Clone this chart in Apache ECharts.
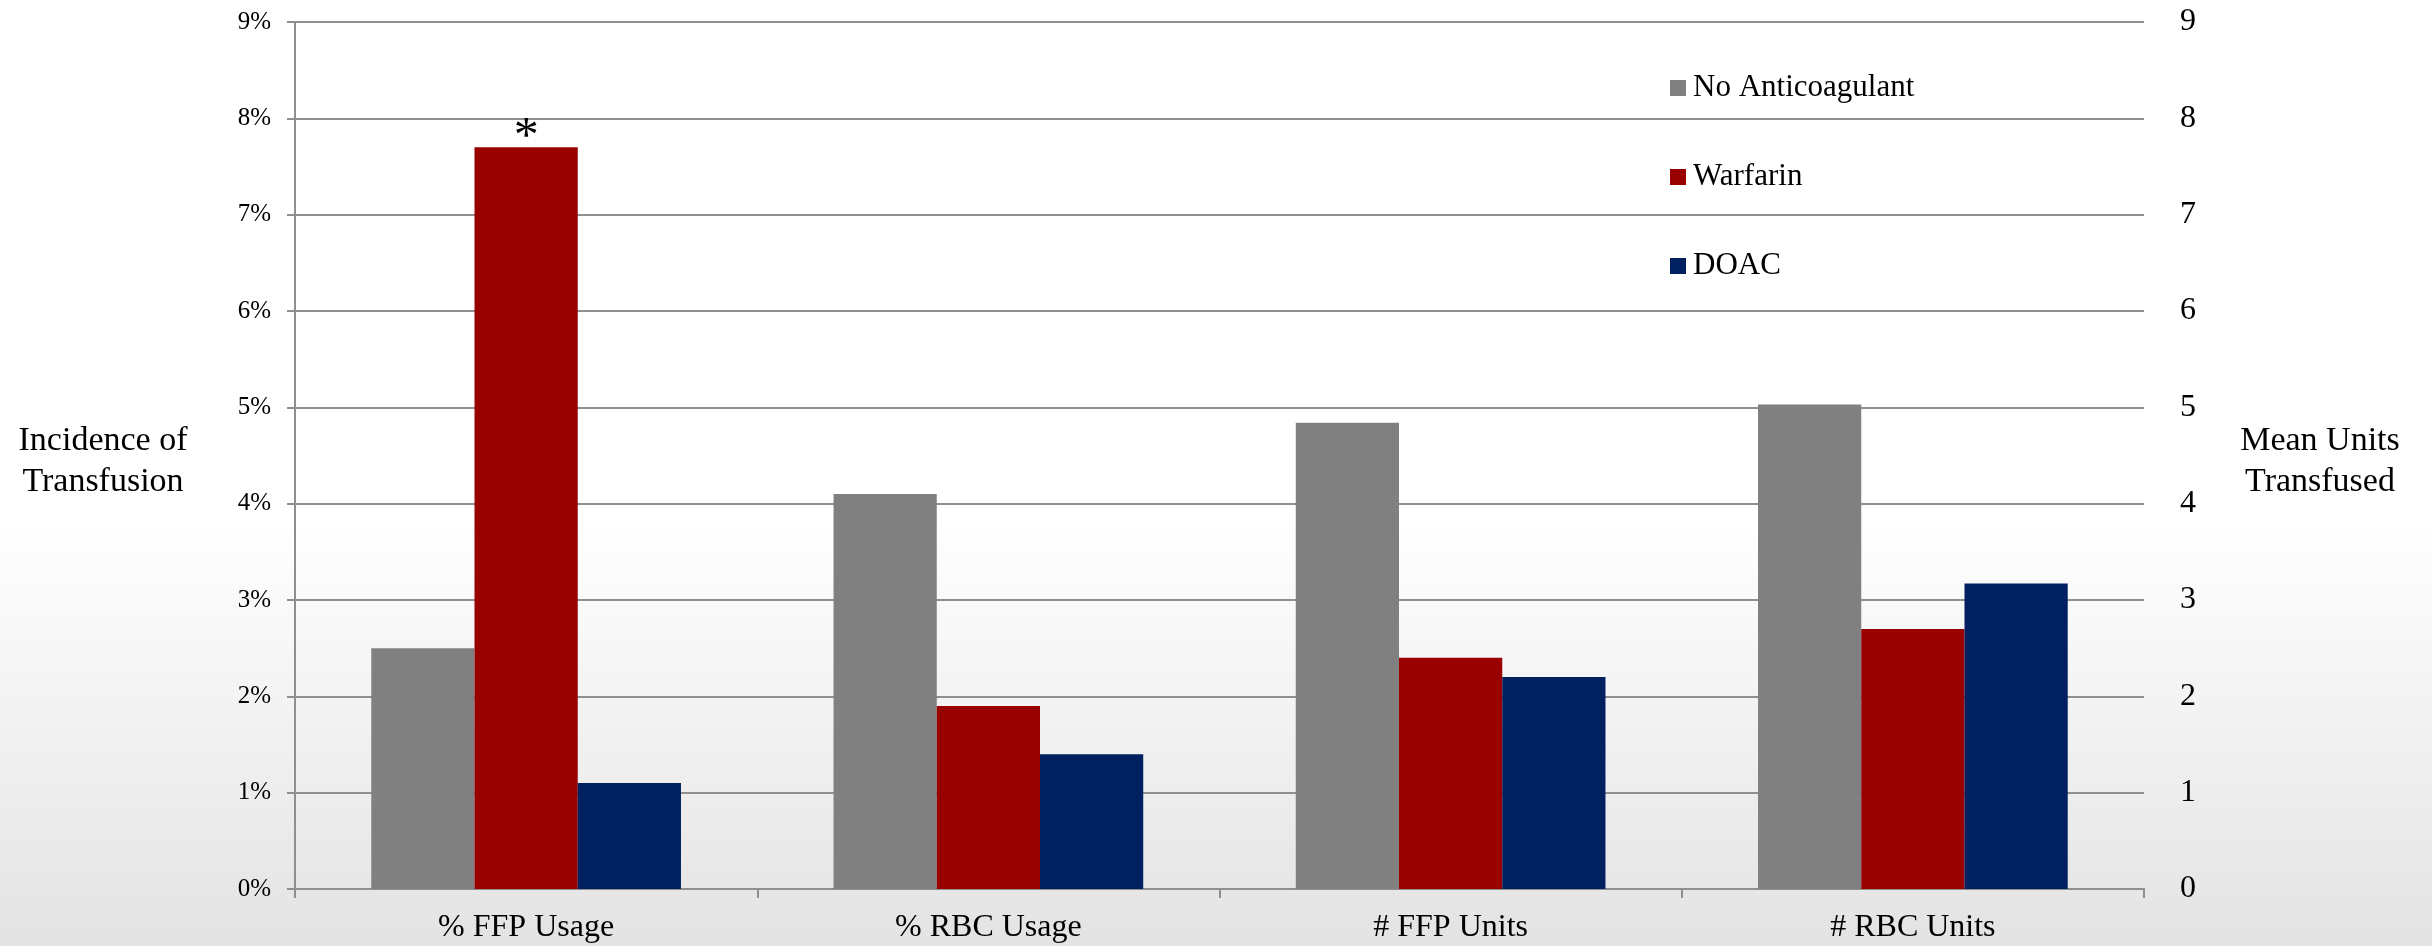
<!DOCTYPE html>
<html>
<head>
<meta charset="utf-8">
<script src="https://cdn.jsdelivr.net/npm/echarts@6/dist/echarts.min.js"></script>
<style>
  html, body { margin: 0; padding: 0; background: #fff; }
  #chart { width: 2432px; height: 946px; }
</style>
</head>
<body>
<div id="chart"></div>
<script>
// Categories along the bottom axis
const categories = ['% FFP Usage', '% RBC Usage', '# FFP Units', '# RBC Units'];
const groups = ['No Anticoagulant', 'Warfarin', 'DOAC'];

// Incidence of transfusion (%), for the two usage categories (left axis)
const incidenceNoAnticoagulant = [2.5, 4.1];
const incidenceWarfarin = [7.7, 1.9];
const incidenceDoac = [1.1, 1.4];

// Mean units transfused, for the two unit categories (right axis)
const unitsNoAnticoagulant = [4.84, 5.03];
const unitsWarfarin = [2.4, 2.7];
const unitsDoac = [2.2, 3.17];

// Significance markers shown above bars, per category
const markersNoAnticoagulant = ['', '', '', ''];
const markersWarfarin = ['*', '', '', ''];
const markersDoac = ['', '', '', ''];

// Axis titles
const leftTitle = 'Incidence of\nTransfusion';
const rightTitle = 'Mean Units\nTransfused';

// Axis ranges
const axisMin = 0;
const axisMax = 9;
const axisStep = 1;

const FONT = '"Liberation Serif", "Times New Roman", serif';
const GRID_GRAY = '#8f8f8f';
const colors = ['#808080', '#990000', '#002060'];

const incidence = [incidenceNoAnticoagulant, incidenceWarfarin, incidenceDoac];
const units = [unitsNoAnticoagulant, unitsWarfarin, unitsDoac];
const markers = [markersNoAnticoagulant, markersWarfarin, markersDoac];

// Place a short value list into its slots of the category axis
function toSlots(values, start, marks) {
  return categories.map(function (cat, i) {
    const k = i - start;
    const v = (k >= 0 && k < values.length) ? values[k] : null;
    if (v !== null && marks[i]) {
      return {
        value: v,
        label: {
          show: true,
          formatter: marks[i],
          position: 'top',
          distance: -16,
          fontFamily: FONT,
          fontSize: 50,
          color: '#000'
        }
      };
    }
    return v;
  });
}

const series = [];
groups.forEach(function (name, g) {
  // incidence bars on the left axis
  series.push({
    name: name,
    type: 'bar',
    stack: 'g' + g,
    yAxisIndex: 0,
    barGap: '0%',
    barCategoryGap: '33%',
    itemStyle: { color: colors[g] },
    data: toSlots(incidence[g], 0, markers[g])
  });
  // unit bars on the right axis, sharing the same slot
  series.push({
    name: name,
    type: 'bar',
    stack: 'g' + g,
    yAxisIndex: 1,
    barGap: '0%',
    barCategoryGap: '33%',
    itemStyle: { color: colors[g] },
    data: toSlots(units[g], 2, markers[g])
  });
});

const titleStyle = { font: '34px ' + FONT, fill: '#000', align: 'center', verticalAlign: 'middle', lineHeight: 41 };

const chart = echarts.init(document.getElementById('chart'), null, { renderer: 'canvas' });
chart.setOption({
  animation: false,
  backgroundColor: {
    type: 'linear', x: 0, y: 0, x2: 0, y2: 1,
    colorStops: [
      { offset: 0, color: '#ffffff' },
      { offset: 0.55, color: '#ffffff' },
      { offset: 1, color: '#e3e3e3' }
    ]
  },
  textStyle: { fontFamily: FONT, color: '#000' },
  grid: { left: 295, right: 288, top: 22, bottom: 57, containLabel: false },
  graphic: [
    { type: 'text', x: 103, y: 462, style: Object.assign({ text: leftTitle }, titleStyle) },
    { type: 'text', x: 2320, y: 462, style: Object.assign({ text: rightTitle }, titleStyle) }
  ],
  legend: {
    data: groups,
    orient: 'vertical',
    left: 1665,
    top: 65,
    itemWidth: 16,
    itemHeight: 16,
    itemGap: 53,
    icon: 'rect',
    textStyle: { fontFamily: FONT, fontSize: 31, color: '#000', lineHeight: 36, padding: [0, 0, 0, 2] }
  },
  xAxis: {
    type: 'category',
    data: categories,
    axisLine: { show: true, lineStyle: { color: GRID_GRAY, width: 2 } },
    axisTick: { show: true, length: 9, interval: 0, lineStyle: { color: GRID_GRAY, width: 2 } },
    axisLabel: { fontFamily: FONT, fontSize: 32, color: '#000', margin: 23, interval: 0 }
  },
  yAxis: [
    {
      type: 'value',
      position: 'left',
      min: axisMin,
      max: axisMax,
      interval: axisStep,
      axisLine: { show: true, lineStyle: { color: GRID_GRAY, width: 2 } },
      axisTick: { show: true, length: 8, lineStyle: { color: GRID_GRAY, width: 2 } },
      splitLine: { show: true, lineStyle: { color: GRID_GRAY, width: 2 } },
      axisLabel: { fontFamily: FONT, fontSize: 25, color: '#000', margin: 24, formatter: '{value}%' }
    },
    {
      type: 'value',
      position: 'right',
      min: axisMin,
      max: axisMax,
      interval: axisStep,
      axisLine: { show: false },
      axisTick: { show: false },
      splitLine: { show: false },
      axisLabel: { fontFamily: FONT, fontSize: 32, color: '#000', margin: 36 }
    }
  ],
  series: series
});
</script>
</body>
</html>
